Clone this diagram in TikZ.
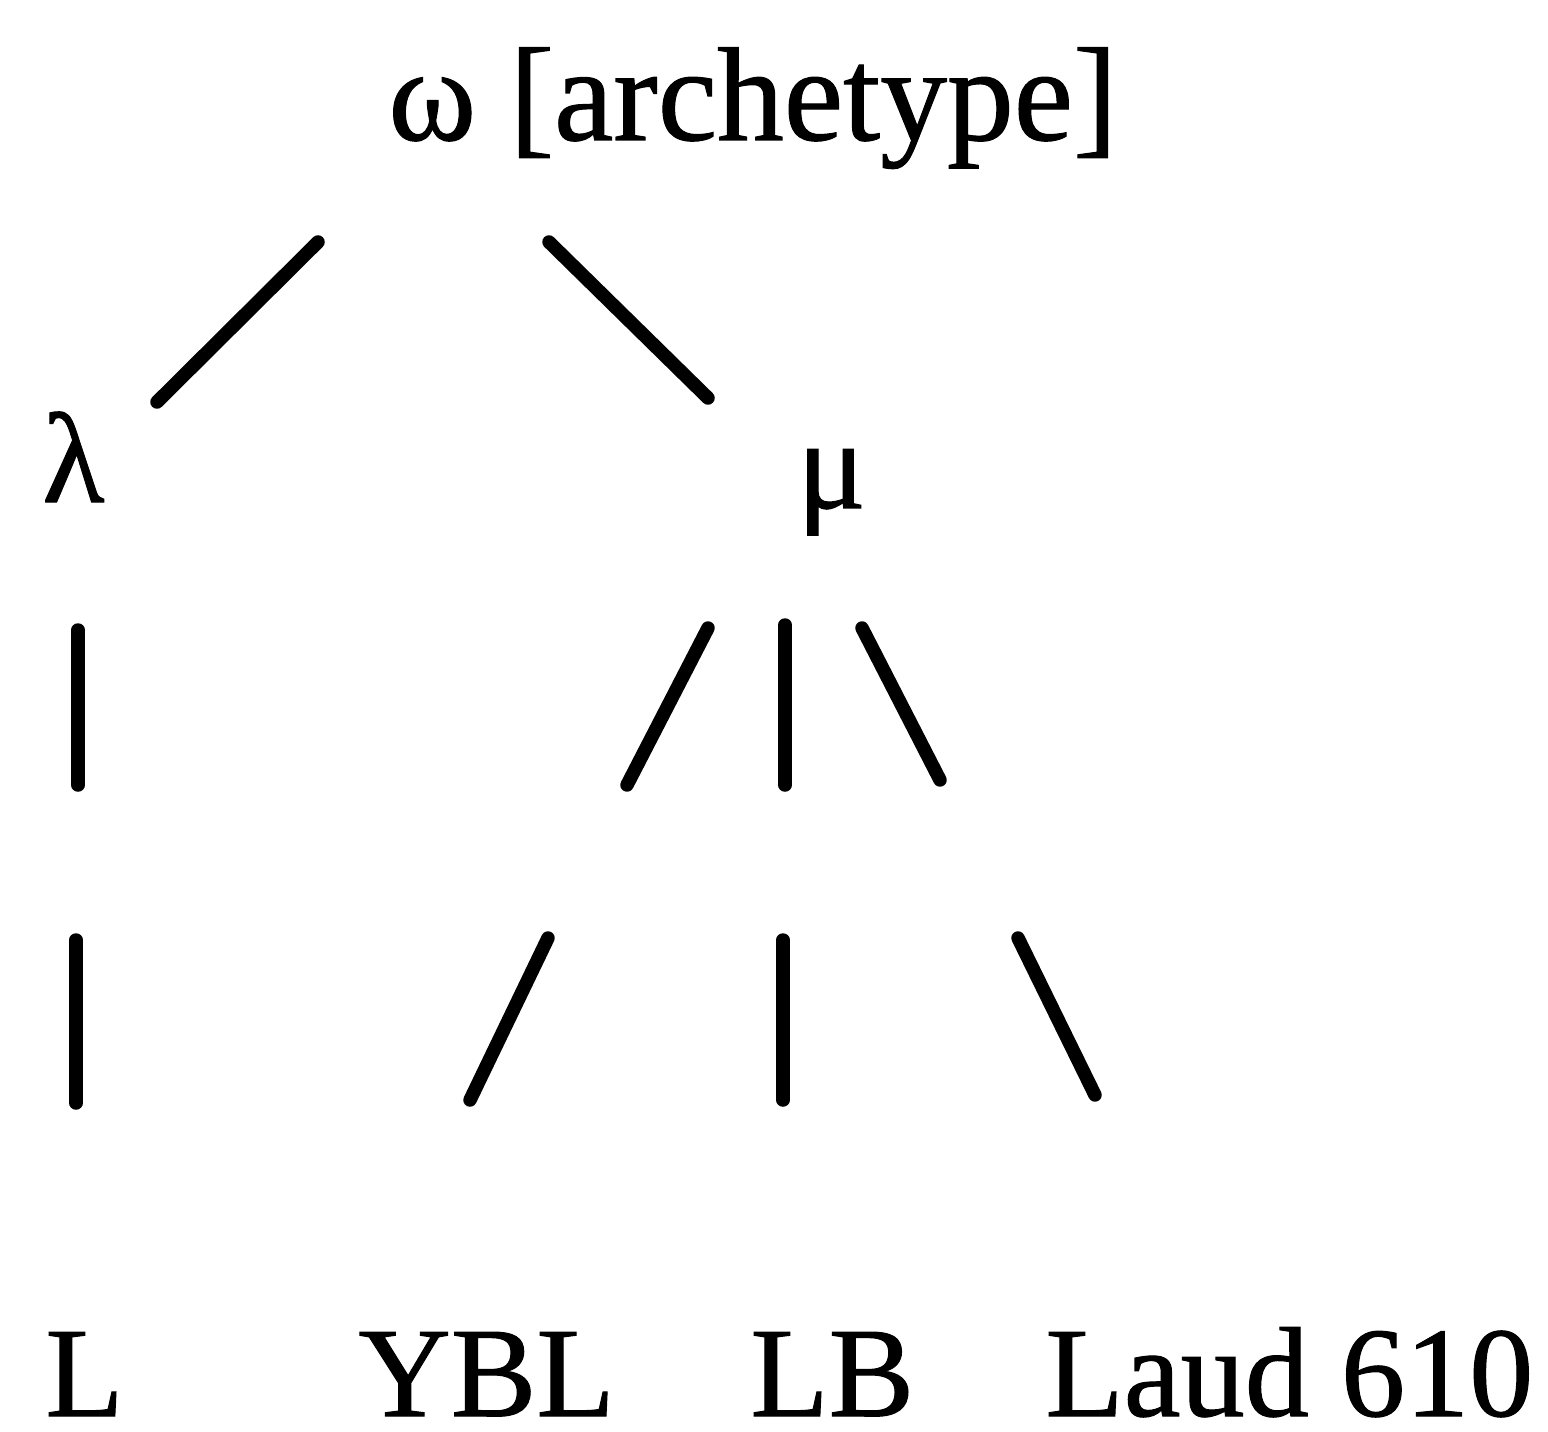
\documentclass[tikz,border=0pt]{standalone}
\usepackage{fontspec}
\setmainfont{Liberation Serif}[FakeBold=0.8]
\begin{document}
\begin{tikzpicture}[x=0.02cm,y=-0.02cm,
  lbl/.style={inner sep=0pt,anchor=base west,font=\fontsize{73}{80}\selectfont},
  toplbl/.style={lbl,font=\fontsize{76}{84}\selectfont},
  stroke/.style={line width=0.27cm,line cap=round}]
\useasboundingbox (0,0) rectangle (1548,1432);
% witnesses and hyparchetypes
\node[toplbl] (om) at (388,140) {ω [archetype]};
\node[lbl] (la) at (42,502) {λ};
\node[lbl] (mu) at (797,508) {μ};
\node[lbl] (L) at (45,1416) {L};
\node[lbl] (YBL) at (358,1416) {YBL};
\node[lbl] (LB) at (750,1416) {LB};
\node[lbl] (Laud) at (1045,1416) {Laud 610};
% stroke end points
\coordinate (a1) at (318,242); \coordinate (a2) at (157,402);
\coordinate (b1) at (549,242); \coordinate (b2) at (708,398);
\coordinate (c1) at (78,630);  \coordinate (c2) at (78,785);
\coordinate (c3) at (76,940);  \coordinate (c4) at (76,1103);
\coordinate (d1) at (708,628); \coordinate (d2) at (627,785);
\coordinate (d3) at (548,938); \coordinate (d4) at (470,1100);
\coordinate (e1) at (785,625); \coordinate (e2) at (785,785);
\coordinate (e3) at (783,940); \coordinate (e4) at (783,1100);
\coordinate (f1) at (862,628); \coordinate (f2) at (940,780);
\coordinate (f3) at (1018,938);\coordinate (f4) at (1095,1095);
% stemma lines
\draw[stroke] (a1) -- (a2);
\draw[stroke] (b1) -- (b2);
\draw[stroke] (c1) -- (c2);
\draw[stroke] (c3) -- (c4);
\draw[stroke] (d1) -- (d2);
\draw[stroke] (d3) -- (d4);
\draw[stroke] (e1) -- (e2);
\draw[stroke] (e3) -- (e4);
\draw[stroke] (f1) -- (f2);
\draw[stroke] (f3) -- (f4);
\end{tikzpicture}
\end{document}
